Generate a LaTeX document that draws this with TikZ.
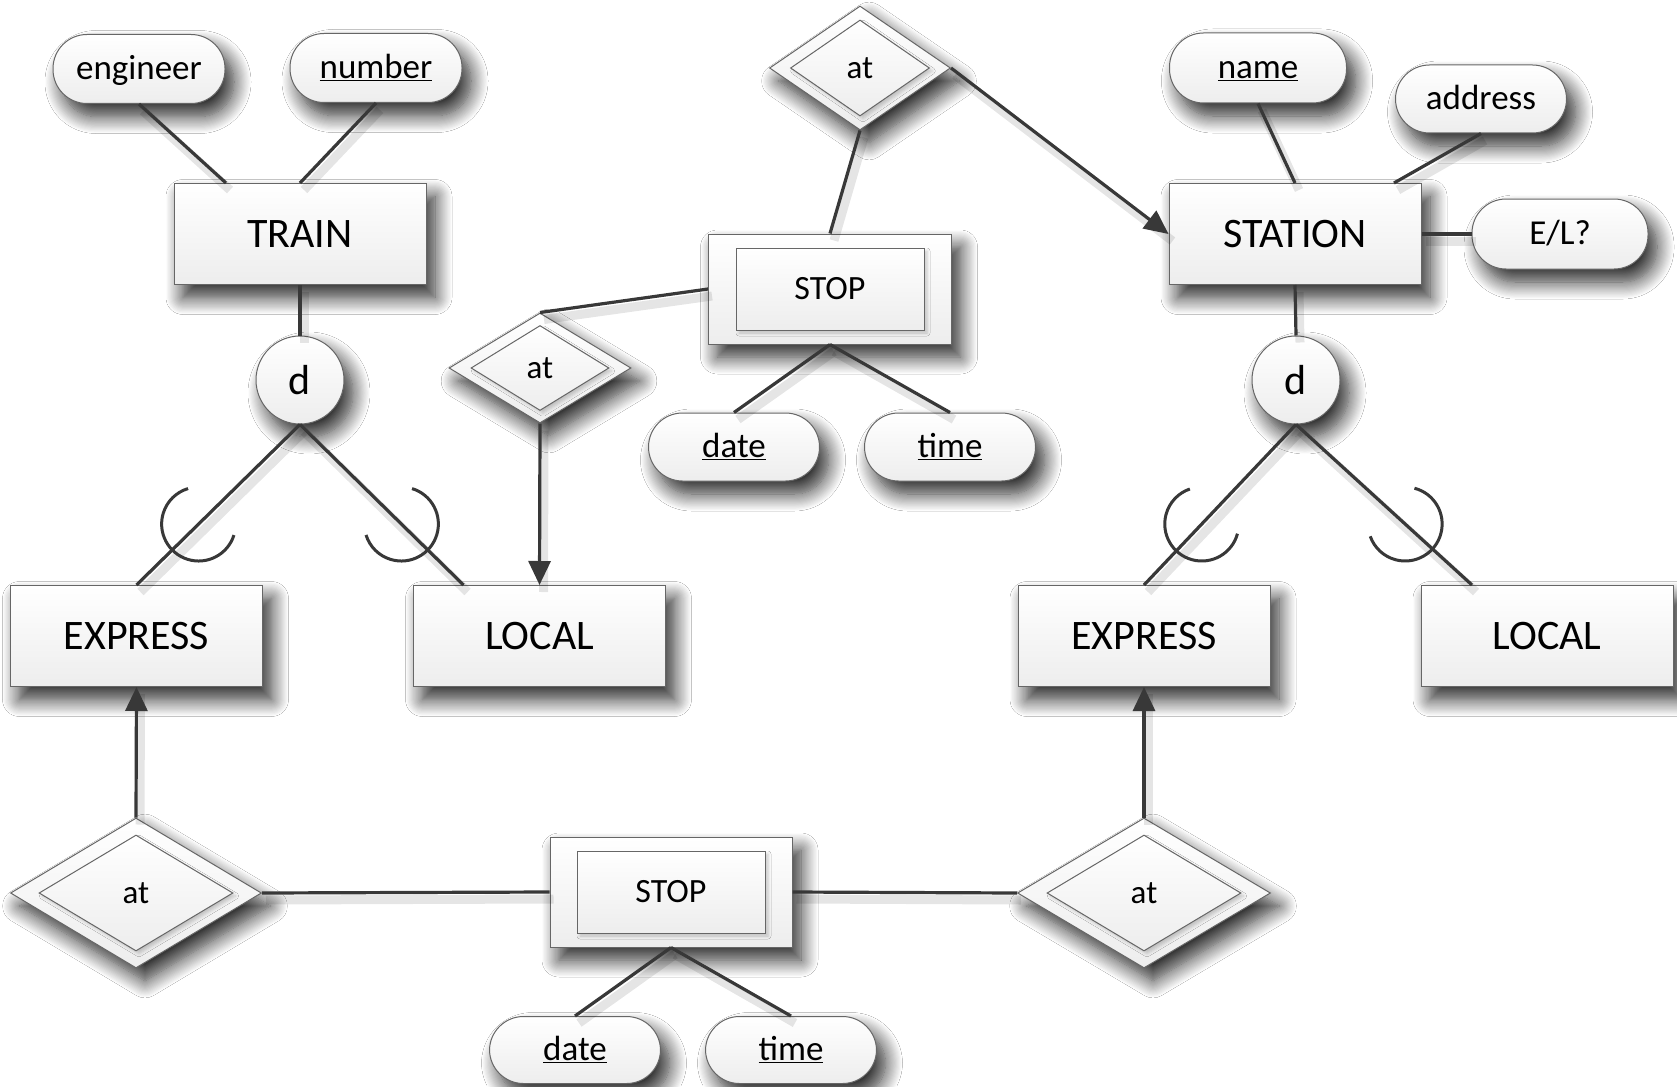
\documentclass[tikz,border=0pt]{standalone}
\usepackage{fontspec}
\setmainfont{Carlito}
\usetikzlibrary{shapes.geometric,shadows.blur,arrows.meta,calc}

\tikzset{
  soft shadow/.style={blur shadow={shadow xshift=9pt, shadow yshift=-13pt,
      shadow blur radius=17pt, shadow blur steps=16, shadow opacity=85}},
  thin shadow/.style={blur shadow={shadow xshift=3pt, shadow yshift=-3pt,
      shadow blur radius=3pt, shadow blur steps=4, shadow opacity=20}},
  erbase/.style={draw=black!60, line width=1pt, top color=white,
      bottom color=black!7, inner sep=0pt, text=black},
  entity/.style={erbase, soft shadow, rectangle, minimum width=252pt,
      minimum height=101pt, font=\fontsize{42}{50}\selectfont},
  attr/.style={erbase, soft shadow, rectangle, rounded corners=34pt,
      minimum width=172pt, minimum height=69pt, font=\fontsize{35}{42}\selectfont,
      text height=28pt, text depth=7pt},
  disj/.style={erbase, soft shadow, circle, minimum size=88pt,
      font=\fontsize{42}{50}\selectfont},
  weakouter/.style={erbase, soft shadow, rectangle, minimum width=243pt,
      minimum height=110pt},
  weakinner/.style={erbase, thin shadow, rectangle, minimum width=188pt,
      minimum height=82pt, font=\fontsize{34}{40}\selectfont},
  relouter/.style={erbase, soft shadow, diamond},
  relinner/.style={erbase, thin shadow, diamond, font=\fontsize{33}{40}\selectfont},
  line shadow/.style={preaction={draw=black, draw opacity=0.10, line width=9pt, -,
      transform canvas={xshift=4pt, yshift=-7pt}}},
  conn/.style={draw=black!78, line width=3.2pt, line shadow},
  arr/.style={conn, -{Triangle[length=24pt,width=22pt]}},
  subsetarc/.style={draw=black!78, line width=3pt},
}

\begin{document}
\begin{tikzpicture}[x=1pt,y=-1pt]
\useasboundingbox (0,0) rectangle (1677,1086);
\fill[white] (0,0) rectangle (1677,1086);

% ---------- TRAIN hierarchy ----------
\node[attr] (engineer) at (139,69) {engineer};
\node[attr] (number) at (376,68) {\underline{number}};
\node[entity] (train) at (300,234) {TRAIN};
\node[disj] (dT) at (300,380) {d};
\node[entity] (expL) at (136.5,636) {EXPRESS};
\node[entity] (locL) at (539.5,636) {LOCAL};

% ---------- STOP (top) with its relationships ----------
\node[relouter, minimum width=181pt, minimum height=124pt] (atTop) at (860,68) {};
\node[relinner, minimum width=139pt, minimum height=96pt] (atTopIn) at (atTop) {at};
\node[weakouter] (stopT) at (830,289) {};
\node[weakinner] (stopTIn) at (stopT) {STOP};
\node[relouter, minimum width=182pt, minimum height=110pt] (atMid) at (540,368) {};
\node[relinner, minimum width=138pt, minimum height=85pt] (atMidIn) at (atMid) {at};
\node[attr, minimum width=171pt, minimum height=68pt] (dateT) at (734,447) {\underline{date}};
\node[attr, minimum width=171pt, minimum height=68pt] (timeT) at (950,447) {\underline{time}};

% ---------- STATION hierarchy ----------
\node[attr, minimum width=177pt, minimum height=70pt] (name) at (1258,68) {\underline{name}};
\node[attr, minimum width=171pt, minimum height=68pt] (address) at (1481,99) {address};
\node[entity] (station) at (1295,234) {STATION};
\node[attr, minimum width=176pt, minimum height=70pt] (el) at (1560,234) {E/L?};
\node[disj] (dS) at (1296,380) {d};
\node[entity] (expR) at (1144,636) {EXPRESS};
\node[entity] (locR) at (1547,636) {LOCAL};

% ---------- STOP (bottom) between the two EXPRESS sets ----------
\node[relouter, minimum width=251pt, minimum height=150pt] (atBL) at (136,893) {};
\node[relinner, minimum width=194pt, minimum height=116pt] (atBLIn) at (atBL) {at};
\node[weakouter, minimum width=242pt] (stopB) at (671,892) {};
\node[weakinner] (stopBIn) at (stopB) {STOP};
\node[relouter, minimum width=253pt, minimum height=150pt] (atBR) at (1144,893) {};
\node[relinner, minimum width=194pt, minimum height=116pt] (atBRIn) at (atBR) {at};
\node[attr, minimum width=171pt, minimum height=67pt] (dateB) at (575,1050) {\underline{date}};
\node[attr, minimum width=171pt, minimum height=67pt] (timeB) at (791,1050) {\underline{time}};

% ---------- connectors ----------
\draw[conn] (engineer.south) -- ([xshift=-74pt]train.north);
\draw[conn] (number.south) -- (train.north);
\draw[conn] (train.south) -- (dT.north);
\draw[conn] (dT.south) -- (expL.north);
\draw[conn] (dT.south) -- ([xshift=-76pt]locL.north);

\draw[conn] (atTop.south) -- (stopT.north);
\draw[arr] (atTop.east) -- (station.west);
\draw[conn] (atMid.north) -- (stopT.west);
\draw[arr] (atMid.south) -- (locL.north);
\draw[conn] (stopT.south) -- (dateT.north);
\draw[conn] (stopT.south) -- (timeT.north);

\draw[conn] (name.south) -- (station.north);
\draw[conn] (address.south) -- ([xshift=99pt]station.north);
\draw[conn] (station.east) -- (el.west);
\draw[conn] (station.south) -- (dS.north);
\draw[conn] (dS.south) -- (expR.north);
\draw[conn] (dS.south) -- ([xshift=-75pt]locR.north);

\draw[arr] (atBL.north) -- (expL.south);
\draw[conn] (atBL.east) -- (stopB.west);
\draw[conn] (stopB.east) -- (atBR.west);
\draw[arr] (atBR.north) -- (expR.south);
\draw[conn] (stopB.south) -- (dateB.north);
\draw[conn] (stopB.south) -- (timeB.north);

% ---------- subset marks on the specialisation lines ----------
\coordinate (cTL) at ($(dT.south)!0.62!(expL.north)$);
\coordinate (cTR) at ($(dT.south)!0.62!([xshift=-76pt]locL.north)$);
\coordinate (cSL) at ($(dS.south)!0.62!(expR.north)$);
\coordinate (cSR) at ($(dS.south)!0.62!([xshift=-75pt]locR.north)$);
\draw[subsetarc] ($(cTL)+(17.4:37)$) arc[start angle=17.4, end angle=253.4, radius=37];
\draw[subsetarc] ($(cTR)+(286.8:37)$) arc[start angle=286.8, end angle=522.8, radius=37];
\draw[subsetarc] ($(cSL)+(15.2:37)$) arc[start angle=15.2, end angle=251.2, radius=37];
\draw[subsetarc] ($(cSR)+(284.6:37)$) arc[start angle=284.6, end angle=520.6, radius=37];
\end{tikzpicture}
\end{document}
